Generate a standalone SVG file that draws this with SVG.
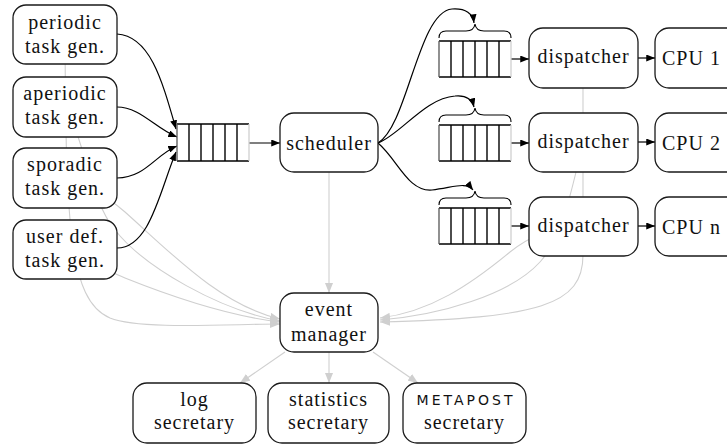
<svg xmlns="http://www.w3.org/2000/svg" width="727" height="445" viewBox="0 0 727 445">
  <defs>
    <style>
      .box { fill: #fff; stroke: #1a1a1a; stroke-width: 1.3; }
      .lbl { font-size: 20px; fill: #111; letter-spacing: 1px; text-anchor: middle; }
      .logo { font-family: 'DejaVu Sans', 'Liberation Sans', sans-serif; font-size: 14px; fill: #111; letter-spacing: 3px; text-anchor: middle; }
      .flow { fill: none; stroke: #000; stroke-width: 1.2; }
      .event { fill: none; stroke: #cfcfcf; stroke-width: 1.1; }
      .qframe { fill: #fff; stroke: none; }
      .qline { stroke: #000; stroke-width: 1.4; }
      .qleft { stroke: #555; stroke-width: 1.3; }
      .qright { stroke: #d0d0d0; stroke-width: 1.3; }
      .brace { fill: none; stroke: #000; stroke-width: 1.1; }
    </style>
    <marker id="arrow" viewBox="0 0 10 8" markerWidth="9" markerHeight="7" refX="10" refY="4" orient="auto" markerUnits="userSpaceOnUse">
      <path d="M0,0 L10,4 L0,8 z" fill="#000"/>
    </marker>
    <marker id="arrow-grey" viewBox="0 0 10 8" markerWidth="10" markerHeight="8" refX="10" refY="4" orient="auto" markerUnits="userSpaceOnUse">
      <path d="M0,0 L10,4 L0,8 z" fill="#cfcfcf"/>
    </marker>
  </defs>

  <g font-family="Liberation Serif, Times New Roman, serif">
  <!-- event notifications: every component reports to the event manager -->
  <g id="event-connectors">
    <path class="event" d="M65,35 C66,220 68,300 110,318 C140,330 230,324 280,324" marker-end="url(#arrow-grey)"/>
    <path class="event" d="M65,107 C85,140 90,200 115,230 C145,268 220,310 280,321" marker-end="url(#arrow-grey)"/>
    <path class="event" d="M65,178 C90,185 105,195 125,212 C170,252 220,305 280,319" marker-end="url(#arrow-grey)"/>
    <path class="event" d="M65,250 C90,262 105,270 125,278 C160,292 220,315 280,322" marker-end="url(#arrow-grey)"/>
    <path class="event" d="M329,172 L329,293" marker-end="url(#arrow-grey)"/>
    <path class="event" d="M583,58 L583,255 C583,305 540,318 380,322" marker-end="url(#arrow-grey)"/>
    <path class="event" d="M583,142 C570,200 560,240 540,262 C510,295 440,315 380,320" marker-end="url(#arrow-grey)"/>
    <path class="event" d="M583,226 C550,228 530,236 510,252 C470,285 430,312 380,318" marker-end="url(#arrow-grey)"/>
    <path class="event" d="M285,352 L240,383" marker-end="url(#arrow-grey)"/>
    <path class="event" d="M329,352 L329,383" marker-end="url(#arrow-grey)"/>
    <path class="event" d="M373,352 L418,383" marker-end="url(#arrow-grey)"/>
  </g>

  <!-- task flow: generators -> ready queue -> scheduler -> CPU queues -> dispatchers -> CPUs -->
  <g id="task-connectors">
    <path class="flow" d="M117,34 C150,36 162,80 176,129" marker-end="url(#arrow)"/>
    <path class="flow" d="M117,107 C140,107 155,128 177,137" marker-end="url(#arrow)"/>
    <path class="flow" d="M117,178 C145,178 155,155 177,146" marker-end="url(#arrow)"/>
    <path class="flow" d="M117,248 C150,248 160,190 176,152" marker-end="url(#arrow)"/>
    <path class="flow" d="M243,143 L280,143" marker-end="url(#arrow)"/>
    <path class="flow" d="M378,143 C408,125 418,12 452,9 C466,8 473,14 474,23" marker-end="url(#arrow)"/>
    <path class="flow" d="M378,143 C400,135 425,98 455,96 C466,95 472,99 474,107" marker-end="url(#arrow)"/>
    <path class="flow" d="M378,143 C398,160 408,192 432,190 C452,188 466,181 473,190" marker-end="url(#arrow)"/>
    <path class="flow" d="M505,59 L529,59" marker-end="url(#arrow)"/>
    <path class="flow" d="M505,143 L529,143" marker-end="url(#arrow)"/>
    <path class="flow" d="M505,226 L529,226" marker-end="url(#arrow)"/>
    <path class="flow" d="M638,58 L655,58" marker-end="url(#arrow)"/>
    <path class="flow" d="M638,142 L655,142" marker-end="url(#arrow)"/>
    <path class="flow" d="M638,226 L655,226" marker-end="url(#arrow)"/>
  </g>

  <!-- task generators -->
  <g id="periodic-gen">
    <rect class="box" x="13" y="5" width="104" height="59" rx="13"/>
    <text class="lbl" x="65" y="29">periodic</text>
    <text class="lbl" x="65" y="53">task gen.</text>
  </g>
  <g id="aperiodic-gen">
    <rect class="box" x="13" y="77" width="104" height="60" rx="13"/>
    <text class="lbl" x="65" y="100">aperiodic</text>
    <text class="lbl" x="65" y="124">task gen.</text>
  </g>
  <g id="sporadic-gen">
    <rect class="box" x="13" y="148" width="104" height="60" rx="13"/>
    <text class="lbl" x="65" y="171">sporadic</text>
    <text class="lbl" x="65" y="195">task gen.</text>
  </g>
  <g id="user-gen">
    <rect class="box" x="13" y="220" width="104" height="59" rx="13"/>
    <text class="lbl" x="65" y="243">user def.</text>
    <text class="lbl" x="65" y="267">task gen.</text>
  </g>

  <!-- ready queue -->
  <g id="ready-queue">
    <rect class="qframe" x="177" y="124" width="72" height="37"/>
    <line class="qline" x1="177" y1="124" x2="249" y2="124"/>
    <line class="qline" x1="177" y1="161" x2="249" y2="161"/>
    <line class="qleft" x1="177" y1="124" x2="177" y2="161"/>
    <line class="qright" x1="249" y1="124" x2="249" y2="161"/>
    <line class="qline" x1="189" y1="124" x2="189" y2="161"/>
    <line class="qline" x1="201" y1="124" x2="201" y2="161"/>
    <line class="qline" x1="213" y1="124" x2="213" y2="161"/>
    <line class="qline" x1="225" y1="124" x2="225" y2="161"/>
    <line class="qline" x1="237" y1="124" x2="237" y2="161"/>
  </g>

  <g id="scheduler">
    <rect class="box" x="280" y="113" width="98" height="59" rx="14"/>
    <text class="lbl" x="329" y="150">scheduler</text>
  </g>

  <!-- per-CPU queues with their braces -->
  <g id="queue-1">
    <path class="brace" d="M439,38 Q439,31 446,31 L466,31 Q474,31 475,24 Q476,31 484,31 L504,31 Q511,31 511,38"/>
    <rect class="qframe" x="439" y="41" width="72" height="36"/>
    <line class="qline" x1="439" y1="41" x2="511" y2="41"/>
    <line class="qline" x1="439" y1="77" x2="511" y2="77"/>
    <line class="qleft" x1="439" y1="41" x2="439" y2="77"/>
    <line class="qright" x1="511" y1="41" x2="511" y2="77"/>
    <line class="qline" x1="451" y1="41" x2="451" y2="77"/>
    <line class="qline" x1="463" y1="41" x2="463" y2="77"/>
    <line class="qline" x1="475" y1="41" x2="475" y2="77"/>
    <line class="qline" x1="487" y1="41" x2="487" y2="77"/>
    <line class="qline" x1="499" y1="41" x2="499" y2="77"/>
  </g>
  <g id="queue-2">
    <path class="brace" d="M439,122 Q439,115 446,115 L466,115 Q474,115 475,108 Q476,115 484,115 L504,115 Q511,115 511,122"/>
    <rect class="qframe" x="439" y="125" width="72" height="36"/>
    <line class="qline" x1="439" y1="125" x2="511" y2="125"/>
    <line class="qline" x1="439" y1="161" x2="511" y2="161"/>
    <line class="qleft" x1="439" y1="125" x2="439" y2="161"/>
    <line class="qright" x1="511" y1="125" x2="511" y2="161"/>
    <line class="qline" x1="451" y1="125" x2="451" y2="161"/>
    <line class="qline" x1="463" y1="125" x2="463" y2="161"/>
    <line class="qline" x1="475" y1="125" x2="475" y2="161"/>
    <line class="qline" x1="487" y1="125" x2="487" y2="161"/>
    <line class="qline" x1="499" y1="125" x2="499" y2="161"/>
  </g>
  <g id="queue-n">
    <path class="brace" d="M439,205 Q439,198 446,198 L466,198 Q474,198 475,191 Q476,198 484,198 L504,198 Q511,198 511,205"/>
    <rect class="qframe" x="439" y="208" width="72" height="36"/>
    <line class="qline" x1="439" y1="208" x2="511" y2="208"/>
    <line class="qline" x1="439" y1="244" x2="511" y2="244"/>
    <line class="qleft" x1="439" y1="208" x2="439" y2="244"/>
    <line class="qright" x1="511" y1="208" x2="511" y2="244"/>
    <line class="qline" x1="451" y1="208" x2="451" y2="244"/>
    <line class="qline" x1="463" y1="208" x2="463" y2="244"/>
    <line class="qline" x1="475" y1="208" x2="475" y2="244"/>
    <line class="qline" x1="487" y1="208" x2="487" y2="244"/>
    <line class="qline" x1="499" y1="208" x2="499" y2="244"/>
  </g>

  <!-- dispatchers -->
  <g id="dispatcher-1">
    <rect class="box" x="529" y="28" width="109" height="60" rx="14"/>
    <text class="lbl" x="583.5" y="63">dispatcher</text>
  </g>
  <g id="dispatcher-2">
    <rect class="box" x="529" y="113" width="109" height="59" rx="14"/>
    <text class="lbl" x="583.5" y="147.5">dispatcher</text>
  </g>
  <g id="dispatcher-n">
    <rect class="box" x="529" y="197" width="109" height="59" rx="14"/>
    <text class="lbl" x="583.5" y="231.5">dispatcher</text>
  </g>

  <!-- processors -->
  <g id="cpu-1">
    <rect class="box" x="655" y="28" width="110" height="60" rx="14"/>
    <text class="lbl" x="662" y="65" style="text-anchor:start">CPU 1</text>
  </g>
  <g id="cpu-2">
    <rect class="box" x="655" y="113" width="110" height="59" rx="14"/>
    <text class="lbl" x="662" y="149.5" style="text-anchor:start">CPU 2</text>
  </g>
  <g id="cpu-n">
    <rect class="box" x="655" y="197" width="110" height="59" rx="14"/>
    <text class="lbl" x="662" y="233.5" style="text-anchor:start">CPU n</text>
  </g>

  <g id="event-manager">
    <rect class="box" x="280" y="293" width="98" height="59" rx="14"/>
    <text class="lbl" x="329" y="316">event</text>
    <text class="lbl" x="329" y="341">manager</text>
  </g>

  <!-- secretaries -->
  <g id="log-secretary">
    <rect class="box" x="133" y="383" width="123" height="60" rx="14"/>
    <text class="lbl" x="194.5" y="406">log</text>
    <text class="lbl" x="194.5" y="429">secretary</text>
  </g>
  <g id="statistics-secretary">
    <rect class="box" x="268" y="383" width="121" height="60" rx="14"/>
    <text class="lbl" x="328.5" y="406">statistics</text>
    <text class="lbl" x="328.5" y="429">secretary</text>
  </g>
  <g id="metapost-secretary">
    <rect class="box" x="403" y="383" width="123" height="60" rx="14"/>
    <text class="logo" x="466" y="405">METAPOST</text>
    <text class="lbl" x="464.5" y="429">secretary</text>
  </g>
  </g>
</svg>
